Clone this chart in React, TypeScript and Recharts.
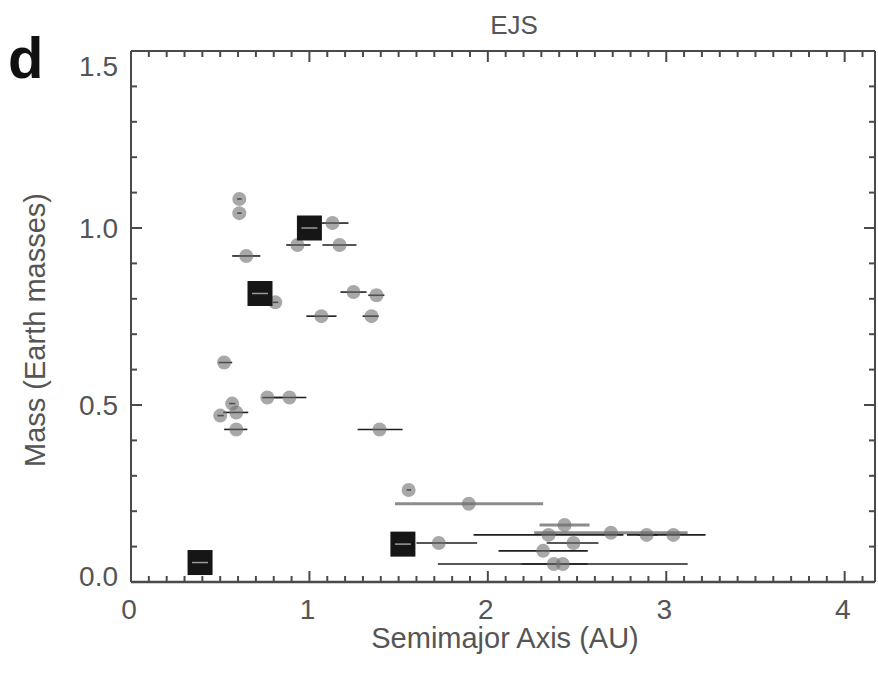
import React from 'react';
import { ScatterChart, Scatter, XAxis, YAxis, ErrorBar } from 'recharts';

// ---- Simulated planets (EJS run) ----
const simSemimajor = [0.607, 0.607, 0.646, 1.129, 0.933, 1.169, 0.809, 1.247, 1.376, 1.067, 1.348, 0.522, 0.764, 0.888, 0.567, 0.59, 0.5, 0.59, 1.393, 1.556, 1.893, 1.725, 2.43, 2.69, 2.34, 2.89, 3.04, 2.48, 2.31, 2.37, 2.42];
const simMass = [1.082, 1.042, 0.921, 1.014, 0.952, 0.952, 0.79, 0.819, 0.81, 0.751, 0.751, 0.62, 0.521, 0.521, 0.504, 0.479, 0.47, 0.431, 0.431, 0.26, 0.221, 0.11, 0.161, 0.139, 0.133, 0.133, 0.133, 0.11, 0.088, 0.051, 0.051];
const simPerihelion = [0.595, 0.595, 0.567, 1.067, 0.87, 1.073, 0.795, 1.174, 1.33, 0.983, 1.298, 0.49, 0.736, 0.8, 0.55, 0.517, 0.485, 0.522, 1.27, 1.545, 1.48, 1.6, 2.29, 2.26, 1.92, 2.84, 2.78, 2.33, 2.06, 1.72, 2.19];
const simAphelion = [0.62, 0.62, 0.725, 1.219, 1.006, 1.264, 0.825, 1.32, 1.42, 1.152, 1.388, 0.567, 0.85, 0.983, 0.585, 0.657, 0.52, 0.652, 1.522, 1.57, 2.31, 1.94, 2.57, 3.12, 2.76, 2.95, 3.22, 2.62, 2.56, 3.12, 2.56];
const simBarTone = ['dark', 'dark', 'dark', 'dark', 'dark', 'dark', 'dark', 'dark', 'dark', 'dark', 'dark', 'dark', 'dark', 'dark', 'dark', 'dark', 'dark', 'dark', 'dark', 'dark', 'gray', 'dark', 'gray', 'gray', 'dark', 'dark', 'dark', 'dark', 'dark', 'dark', 'dark'];

// ---- Solar system planets ----
const solarNames = ['Mercury', 'Venus', 'Earth', 'Mars'];
const solarSemimajor = [0.387, 0.723, 1.0, 1.524];
const solarMass = [0.055, 0.815, 1.0, 0.107];

// ---- Axes ----
const xMajorTicks = [0, 1, 2, 3, 4];
const yMajorTicks = [0, 0.5, 1.0, 1.5];
const xDomain = [0, 4.17];
const yDomain = [0, 1.5];
const minorStep = 0.1;

const titleText = 'EJS';
const panelLetter = 'd';
const xTitle = 'Semimajor Axis (AU)';
const yTitle = 'Mass (Earth masses)';

const xTicks = Array.from({ length: 42 }, (_, i) => Math.round(i * minorStep * 10) / 10);
const yTicks = Array.from({ length: 16 }, (_, i) => Math.round(i * minorStep * 10) / 10);

const sim = simSemimajor.map((a, i) => ({
  a,
  m: simMass[i],
  err: [a - simPerihelion[i], simAphelion[i] - a],
  tone: simBarTone[i],
}));
const darkBars = sim.filter((d) => d.tone === 'dark');
const grayBars = sim.filter((d) => d.tone === 'gray');
const solar = solarSemimajor.map((a, i) => ({ name: solarNames[i], a, m: solarMass[i] }));

const FONT = '"Liberation Sans", Arial, Helvetica, sans-serif';
const AXIS = '#4a4a4a';
const TEXT = '#555555';
const MAJ = 11;
const MIN = 6;

const isMajor = (v: number, list: number[]) => list.some((t) => Math.abs(t - v) < 1e-6);

const BottomTick = (props: any) => {
  const { x, y, payload } = props;
  const v = payload.value;
  const major = isMajor(v, xMajorTicks);
  return (
    <g>
      <line x1={x} x2={x} y1={y} y2={y - (major ? MAJ : MIN)} stroke={AXIS} strokeWidth={2} />
      {major && (
        <text x={x - 2} y={y + 37} textAnchor="middle" fontFamily={FONT} fontSize={28} fill={TEXT}>
          {String(v)}
        </text>
      )}
    </g>
  );
};

const TopTick = (props: any) => {
  const { x, y, payload } = props;
  const major = isMajor(payload.value, xMajorTicks);
  return <line x1={x} x2={x} y1={y} y2={y + (major ? MAJ : MIN)} stroke={AXIS} strokeWidth={2} />;
};

const LeftTick = (props: any) => {
  const { x, y, payload } = props;
  const v = payload.value;
  const major = isMajor(v, yMajorTicks);
  let dy = 10;
  if (Math.abs(v - yDomain[1]) < 1e-6) dy = 25;
  if (Math.abs(v - yDomain[0]) < 1e-6) dy = 4;
  return (
    <g>
      <line x1={x} x2={x + (major ? MAJ : MIN)} y1={y} y2={y} stroke={AXIS} strokeWidth={2} />
      {major && (
        <text x={x - 13} y={y + dy} textAnchor="end" fontFamily={FONT} fontSize={28} fill={TEXT}>
          {v.toFixed(1)}
        </text>
      )}
    </g>
  );
};

const RightTick = (props: any) => {
  const { x, y, payload } = props;
  const major = isMajor(payload.value, yMajorTicks);
  return <line x1={x} x2={x - (major ? MAJ : MIN)} y1={y} y2={y} stroke={AXIS} strokeWidth={2} />;
};

const Dot = (props: any) => {
  const { cx, cy } = props;
  if (cx == null || cy == null) return <g />;
  return <circle cx={cx} cy={cy} r={7} fill="#6e6e6e" fillOpacity={0.6} />;
};

const SquareMark = (props: any) => {
  const { cx, cy } = props;
  if (cx == null || cy == null) return <g />;
  return (
    <g>
      <rect x={cx - 12.5} y={cy - 12.5} width={25} height={25} fill="#161616" />
      <line x1={cx - 8} x2={cx + 8} y1={cy} y2={cy} stroke="#9a9a9a" strokeWidth={1.5} />
    </g>
  );
};

const Nothing = () => <g />;

export default function App() {
  return (
    <div style={{ position: 'absolute', left: 0, top: 0, width: 878, height: 678, background: '#fff' }}>
      <ScatterChart width={878} height={678} margin={{ top: 50, right: 2, bottom: 66, left: 71 }}>
        <XAxis
          xAxisId="bottom"
          type="number"
          dataKey="a"
          domain={xDomain}
          allowDataOverflow
          ticks={xTicks}
          interval={0}
          tickSize={0}
          tickMargin={0}
          tickLine={false}
          tick={<BottomTick />}
          axisLine={{ stroke: AXIS, strokeWidth: 2.5 }}
          height={30}
          orientation="bottom"
        />
        <XAxis
          xAxisId="top"
          type="number"
          dataKey="a"
          domain={xDomain}
          allowDataOverflow
          ticks={xTicks}
          interval={0}
          tickSize={0}
          tickMargin={0}
          tickLine={false}
          tick={<TopTick />}
          axisLine={{ stroke: AXIS, strokeWidth: 2 }}
          height={1}
          orientation="top"
        />
        <YAxis
          yAxisId="left"
          type="number"
          dataKey="m"
          domain={yDomain}
          allowDataOverflow
          ticks={yTicks}
          interval={0}
          tickSize={0}
          tickMargin={0}
          tickLine={false}
          tick={<LeftTick />}
          axisLine={{ stroke: AXIS, strokeWidth: 2 }}
          width={60}
          orientation="left"
        />
        <YAxis
          yAxisId="right"
          type="number"
          dataKey="m"
          domain={yDomain}
          allowDataOverflow
          ticks={yTicks}
          interval={0}
          tickSize={0}
          tickMargin={0}
          tickLine={false}
          tick={<RightTick />}
          axisLine={{ stroke: AXIS, strokeWidth: 2 }}
          width={1}
          orientation="right"
        />
        <Scatter data={sim} xAxisId="top" yAxisId="right" shape={<Nothing />} isAnimationActive={false} legendType="none" />
        <Scatter data={grayBars} xAxisId="bottom" yAxisId="left" shape={<Nothing />} isAnimationActive={false} legendType="none">
          <ErrorBar dataKey="err" direction="x" width={0} stroke="#8c8c8c" strokeWidth={3} isAnimationActive={false} />
        </Scatter>
        <Scatter data={sim} xAxisId="bottom" yAxisId="left" shape={<Dot />} isAnimationActive={false} legendType="none" />
        <Scatter data={darkBars} xAxisId="bottom" yAxisId="left" shape={<Nothing />} isAnimationActive={false} legendType="none">
          <ErrorBar dataKey="err" direction="x" width={0} stroke="#1e1e1e" strokeWidth={1.6} isAnimationActive={false} />
        </Scatter>
        <Scatter data={solar} xAxisId="bottom" yAxisId="left" shape={<SquareMark />} isAnimationActive={false} legendType="none" />
      </ScatterChart>
      <div style={{ position: 'absolute', left: 8, top: 29, fontFamily: FONT, fontWeight: 'bold', fontSize: 58, lineHeight: '58px', color: '#111' }}>
        {panelLetter}
      </div>
      <div style={{ position: 'absolute', left: 414, width: 200, top: 10, textAlign: 'center', fontFamily: FONT, fontSize: 26, lineHeight: '30px', color: TEXT }}>
        {titleText}
      </div>
      <div style={{ position: 'absolute', left: 305, width: 400, top: 621, textAlign: 'center', fontFamily: FONT, fontSize: 29, lineHeight: '34px', color: TEXT }}>
        {xTitle}
      </div>
      <div
        style={{
          position: 'absolute',
          left: 35 - 200,
          width: 400,
          top: 330 - 17,
          textAlign: 'center',
          fontFamily: FONT,
          fontSize: 29,
          lineHeight: '34px',
          color: TEXT,
          transform: 'rotate(-90deg)',
        }}
      >
        {yTitle}
      </div>
    </div>
  );
}
